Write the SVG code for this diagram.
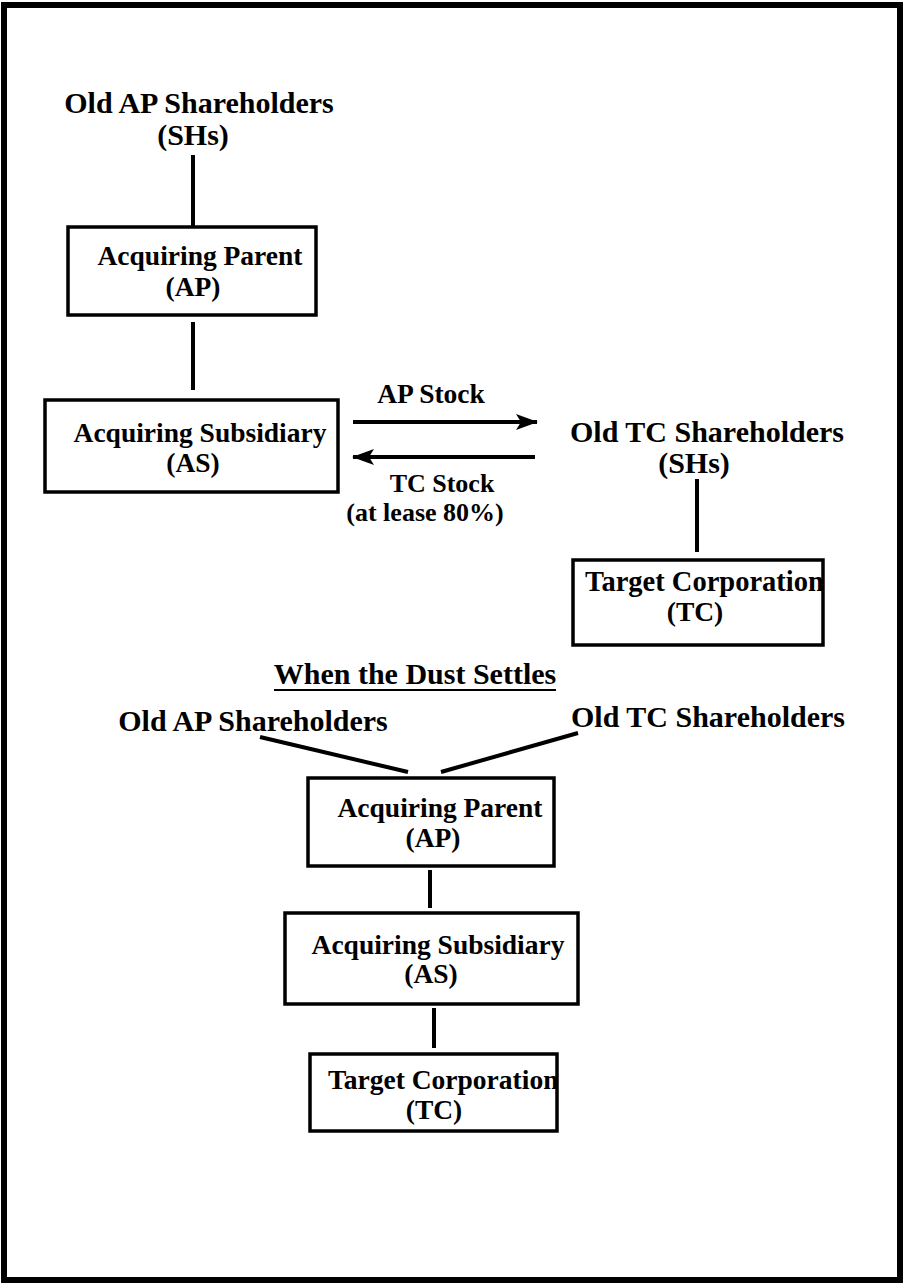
<svg xmlns="http://www.w3.org/2000/svg" width="903" height="1284" viewBox="0 0 903 1284">
  <style>
    text { font-family: "Liberation Serif", "Times New Roman", serif; font-weight: bold; fill: #000; }
    .head { font-size: 30px; }
    .lbl { font-size: 27.5px; }
    .note { font-size: 26px; }
    .mid { text-anchor: middle; }
    .box { fill: #fff; stroke: #000; stroke-width: 3.5; }
    .conn { stroke: #000; stroke-width: 4; fill: none; }
  </style>
  <defs>
    <marker id="arrow" viewBox="0 0 22 16" refX="21" refY="8" markerWidth="22" markerHeight="16" markerUnits="userSpaceOnUse" orient="auto">
      <path d="M0,0 L22,8 L0,16 L5,8 Z" fill="#000"/>
    </marker>
    <clipPath id="clipTc1"><rect x="573" y="560" width="250" height="85"/></clipPath>
    <clipPath id="clipTc2"><rect x="310" y="1054" width="247" height="77"/></clipPath>
  </defs>

  <rect x="0" y="0" width="903" height="1284" fill="#fff"/>
  <!-- page frame -->
  <rect x="4" y="5" width="896" height="1275" fill="none" stroke="#000" stroke-width="6"/>

  <!-- connectors -->
  <g id="connectors">
    <line class="conn" x1="193" y1="155" x2="193" y2="226"/>
    <line class="conn" x1="193" y1="322" x2="193" y2="390"/>
    <line class="conn" x1="697" y1="479" x2="697" y2="552"/>
    <line class="conn" x1="353" y1="422" x2="537" y2="422" marker-end="url(#arrow)"/>
    <line class="conn" x1="535" y1="457" x2="353" y2="457" marker-end="url(#arrow)"/>
    <line class="conn" x1="260" y1="737" x2="408" y2="772"/>
    <line class="conn" x1="441" y1="772" x2="578" y2="733"/>
    <line class="conn" x1="430" y1="870" x2="430" y2="908"/>
    <line class="conn" x1="434" y1="1008" x2="434" y2="1048"/>
  </g>

  <!-- transfer labels -->
  <g id="labels">
    <text class="lbl mid" x="431" y="403">AP Stock</text>
    <text class="note mid" x="442" y="492">TC Stock</text>
    <text class="note mid" x="425" y="521">(at lease 80%)</text>
  </g>

  <!-- before the merger -->
  <g id="old-ap-shs-1">
    <text class="head mid" x="199" y="113">Old AP Shareholders</text>
    <text class="head mid" x="193" y="145">(SHs)</text>
  </g>
  <g id="ap-1">
    <rect class="box" x="68" y="227" width="248" height="88"/>
    <text class="lbl mid" x="200" y="265">Acquiring Parent</text>
    <text class="lbl mid" x="193" y="296">(AP)</text>
  </g>
  <g id="as-1">
    <rect class="box" x="45" y="400" width="293" height="92"/>
    <text class="lbl mid" x="200" y="442">Acquiring Subsidiary</text>
    <text class="lbl mid" x="193" y="472">(AS)</text>
  </g>
  <g id="old-tc-shs-1">
    <text class="head mid" x="707" y="442">Old TC Shareholders</text>
    <text class="head mid" x="694" y="473">(SHs)</text>
  </g>
  <g id="tc-1">
    <rect class="box" x="573" y="560" width="250" height="85"/>
    <text x="585" y="591" font-size="28.5" clip-path="url(#clipTc1)">Target Corporation</text>
    <text class="lbl mid" x="695" y="621">(TC)</text>
  </g>

  <!-- after the merger -->
  <g id="title">
    <text class="head mid" x="415" y="684">When the Dust Settles</text>
    <line x1="274" y1="690" x2="556" y2="690" stroke="#000" stroke-width="2"/>
  </g>
  <g id="old-ap-shs-2">
    <text class="head mid" x="253" y="731">Old AP Shareholders</text>
  </g>
  <g id="old-tc-shs-2">
    <text class="head mid" x="708" y="727">Old TC Shareholders</text>
  </g>
  <g id="ap-2">
    <rect class="box" x="308" y="778" width="246" height="88"/>
    <text class="lbl mid" x="440" y="817">Acquiring Parent</text>
    <text class="lbl mid" x="433" y="847">(AP)</text>
  </g>
  <g id="as-2">
    <rect class="box" x="285" y="913" width="293" height="91"/>
    <text class="lbl mid" x="438" y="954">Acquiring Subsidiary</text>
    <text class="lbl mid" x="431" y="983">(AS)</text>
  </g>
  <g id="tc-2">
    <rect class="box" x="310" y="1054" width="247" height="77"/>
    <text class="lbl" x="328" y="1089" clip-path="url(#clipTc2)">Target Corporation</text>
    <text class="lbl mid" x="434" y="1119">(TC)</text>
  </g>
</svg>
